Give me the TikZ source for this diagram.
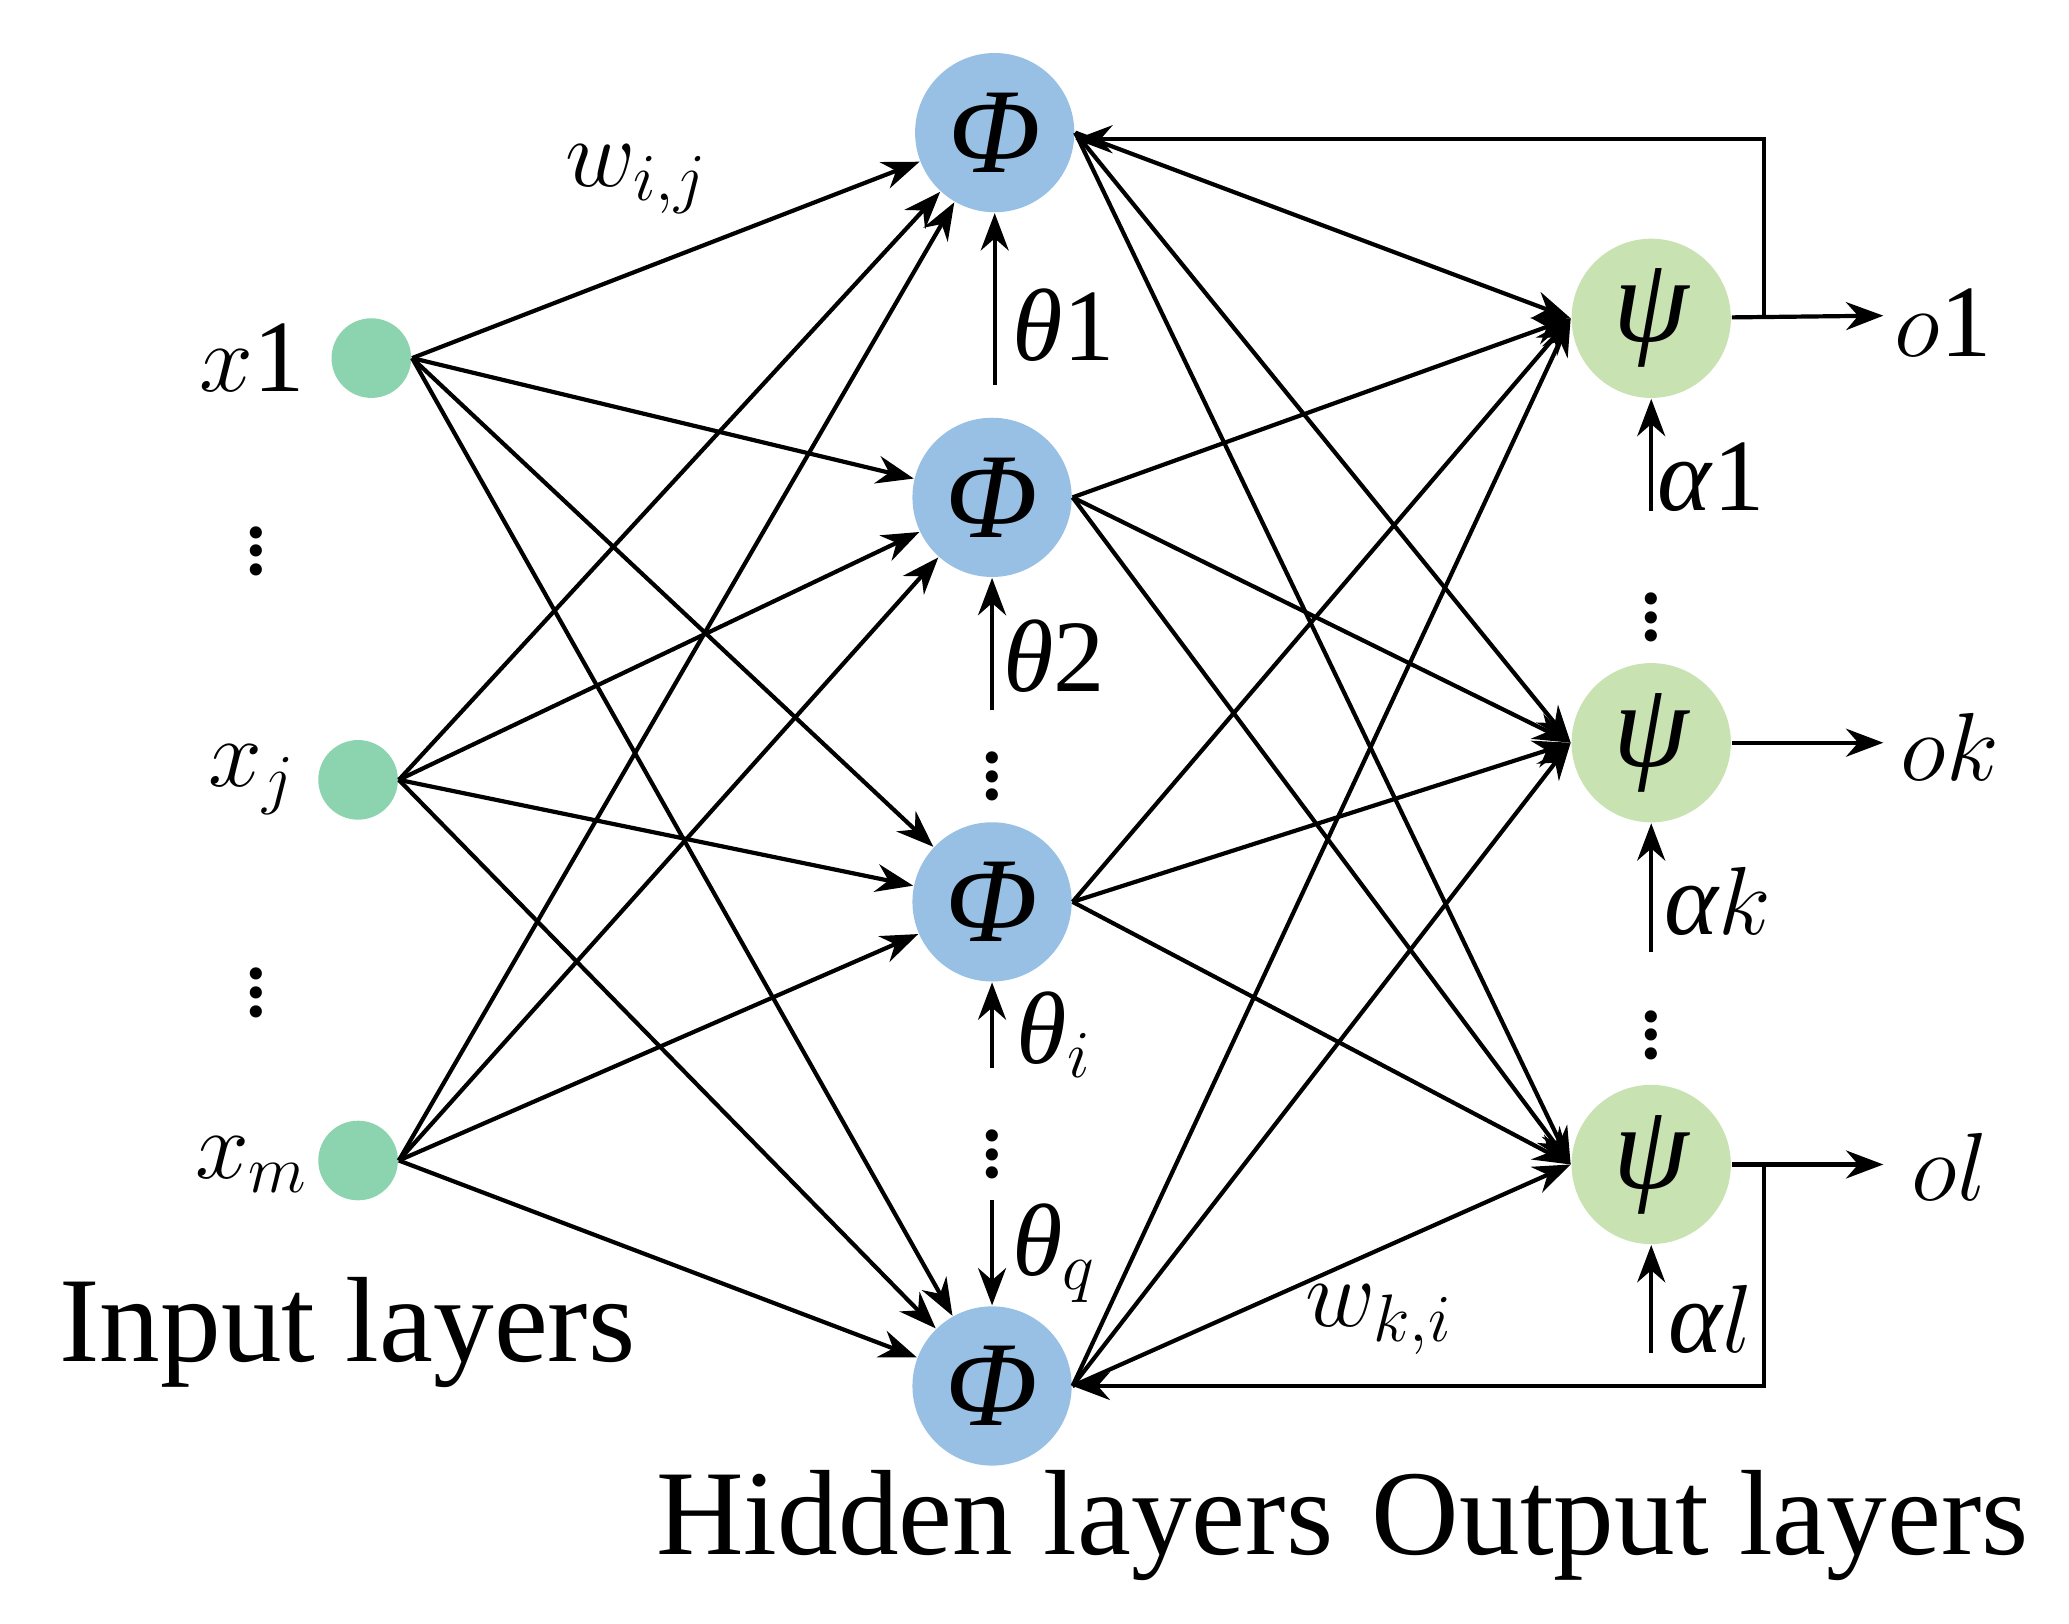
\documentclass[tikz,border=0pt]{standalone}
\usepackage{fontspec}
\setmainfont{Liberation Serif}
\usetikzlibrary{arrows.meta}
\definecolor{inc}{RGB}{140,212,175}
\definecolor{hid}{RGB}{152,192,228}
\definecolor{outc}{RGB}{200,226,178}
\newcommand{\gk}[1]{\textit{#1}}
\begin{document}
\begin{tikzpicture}[x=0.01cm,y=-0.01cm,
  every node/.style={font=\fontsize{22}{26}\selectfont},
  inp/.style={circle,fill=inc,minimum size=0.6cm,inner sep=0},
  hn/.style={circle,fill=hid,minimum size=1.2cm,inner sep=0,font=\fontsize{26}{30}\selectfont\itshape},
  on/.style={circle,fill=outc,minimum size=1.2cm,inner sep=0,font=\fontsize{26}{30}\selectfont\itshape},
  arr/.style={line width=0.9pt,-{Stealth[length=8pt,width=6pt]}},
  big/.style={font=\fontsize{26}{30}\selectfont}]
\useasboundingbox (0,0) rectangle (1560,1224);
\node[inp] (x1) at (280,270) {};
\node[inp] (xj) at (270,588) {};
\node[inp] (xm) at (270,875) {};
\node[hn] (h1) at (750,100) {Φ};
\node[hn] (h2) at (748,375) {Φ};
\node[hn] (h3) at (748,680) {Φ};
\node[hn] (h4) at (748,1045) {Φ};
\node[on] (o1) at (1245,240) {ψ};
\node[on] (ok) at (1245,560) {ψ};
\node[on] (ol) at (1245,878) {ψ};
\foreach \a in {x1,xj,xm}
  \foreach \b in {h1,h2,h3,h4}
    \draw[arr] (\a.east) -- (\b);
\foreach \a in {h1,h2,h3,h4}
  \foreach \b in {o1,ok,ol}
    \draw[arr] (\a.east) -- (\b.west);
\node (lx1) at (190,270) {$x$1};
\node (d1) at (193,405) {$\vdots$};
\node (lxj) at (190,588) {$x_j$};
\node (d2) at (193,738) {$\vdots$};
\node (lxm) at (190,878) {$x_m$};
% thetas
\coordinate (t1) at (750,290); \draw[arr] (t1) -- (h1);
\node (lt1) at (802,245) {\gk{θ}1};
\coordinate (t2) at (748,535); \draw[arr] (t2) -- (h2);
\node (lt2) at (795,495) {\gk{θ}2};
\node (d3) at (748,575) {$\vdots$};
\coordinate (t3) at (748,805); \draw[arr] (t3) -- (h3);
\node (lt3) at (795,780) {\gk{θ$_i$}};
\node (d4) at (748,860) {$\vdots$};
\coordinate (t4) at (748,905); \draw[arr] (t4) -- (h4);
\node (lt4) at (795,945) {\gk{θ$_q$}};
% alphas
\coordinate (a1) at (1245,385); \draw[arr] (a1) -- (o1);
\node (la1) at (1290,360) {\gk{α}1};
\node (d5) at (1245,455) {$\vdots$};
\coordinate (a2) at (1245,718); \draw[arr] (a2) -- (ok);
\node (la2) at (1295,680) {\gk{α$k$}};
\node (d6) at (1245,770) {$\vdots$};
\coordinate (a3) at (1245,1020); \draw[arr] (a3) -- (ol);
\node (la3) at (1290,995) {\gk{α$l$}};
% outputs
\coordinate (e1) at (1420,238); \draw[arr] (o1) -- (e1);
\node (lo1) at (1465,243) {$o$1};
\coordinate (e2) at (1420,560); \draw[arr] (ok) -- (e2);
\node (lo2) at (1470,563) {$ok$};
\coordinate (e3) at (1420,878); \draw[arr] (ol) -- (e3);
\node (lo3) at (1470,880) {$ol$};
% feedback
\coordinate (f1) at (1330,238);
\coordinate (f2) at (1330,878);
\draw[arr] (f1) -- (1330,105) -- (h1.east|-0,105);
\draw[arr] (f2) -- (1330,1045) -- (h4.east);
\node (w1) at (480,135) {$w_{i,j}$};
\node (w2) at (1040,995) {$w_{k,i}$};
\node[big] (L1) at (262,1005) {Input layers};
\node[big] (L2) at (750,1150) {Hidden layers};
\node[big] (L3) at (1282,1150) {Output layers};
\end{tikzpicture}
\end{document}
